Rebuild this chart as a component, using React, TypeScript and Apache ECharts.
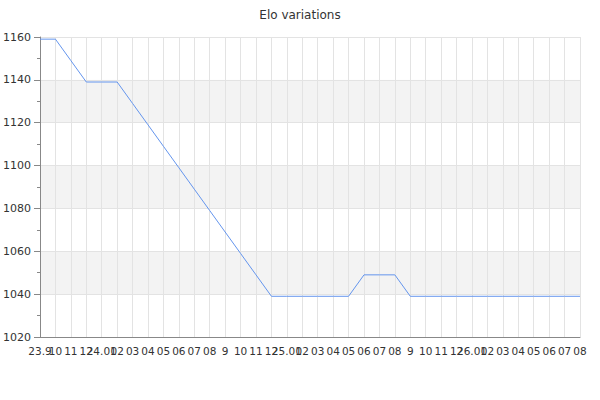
import React, { useEffect, useRef } from 'react'
import * as echarts from 'echarts'

// x轴标签（年.月）
const categories = [
  '23.9', '10', '11', '12',
  '24.01', '02', '03', '04', '05', '06', '07', '08', '9', '10', '11', '12',
  '25.01', '02', '03', '04', '05', '06', '07', '08', '9', '10', '11', '12',
  '26.01', '02', '03', '04', '05', '06', '07', '08',
]

// Elo 数值
const eloValues = [
  1159, 1159, 1149, 1139, 1139, 1139, 1129, 1119, 1109, 1099, 1089, 1079,
  1069, 1059, 1049, 1039, 1039, 1039, 1039, 1039, 1039, 1049, 1049, 1049,
  1039, 1039, 1039, 1039, 1039, 1039, 1039, 1039, 1039, 1039, 1039, 1039,
]

const FONT = 'DejaVu Sans'

const App = () => {
  const chartRef = useRef<HTMLDivElement>(null)

  useEffect(() => {
    const chart = echarts.init(chartRef.current!, null, { renderer: 'svg' })

    chart.setOption({
      animation: false,
      title: {
        text: 'Elo variations',
        left: 'center',
        top: 4,
        textStyle: { fontFamily: FONT, fontSize: 12, fontWeight: 'normal', color: '#333' },
      },
      grid: { left: 40, right: 20, top: 37, bottom: 63 },
      xAxis: {
        type: 'category',
        boundaryGap: false,
        data: categories,
        axisLine: { lineStyle: { color: '#888' } },
        axisTick: { show: false },
        axisLabel: { interval: 0, fontFamily: FONT, fontSize: 10.5, color: '#333', margin: 8 },
        splitLine: { show: true, lineStyle: { color: '#e3e3e3' } },
      },
      yAxis: {
        type: 'value',
        min: 1020,
        max: 1160,
        interval: 20,
        axisLine: { show: true, lineStyle: { color: '#888' } },
        axisTick: { show: true, length: 6 },
        minorTick: { show: true, splitNumber: 2, length: 3, lineStyle: { color: '#888' } },
        axisLabel: {
          fontFamily: FONT,
          fontSize: 11,
          color: '#333',
          margin: 9,
          formatter: (v: number) => String(v),
        },
        splitLine: { lineStyle: { color: '#e3e3e3' } },
        splitArea: { show: true, areaStyle: { color: ['#ffffff', '#f3f3f3'] } },
      },
      series: [
        {
          name: 'Elo',
          type: 'line',
          data: eloValues,
          showSymbol: false,
          lineStyle: { color: '#6495ed', width: 1 },
          itemStyle: { color: '#6495ed' },
        },
      ],
    })

    return () => {
      chart.dispose()
    }
  }, [])

  return (
    <div
      style={{ position: 'absolute', left: 0, top: 0, width: '600px', height: '400px' }}
      ref={chartRef}
    ></div>
  )
}
export default App
